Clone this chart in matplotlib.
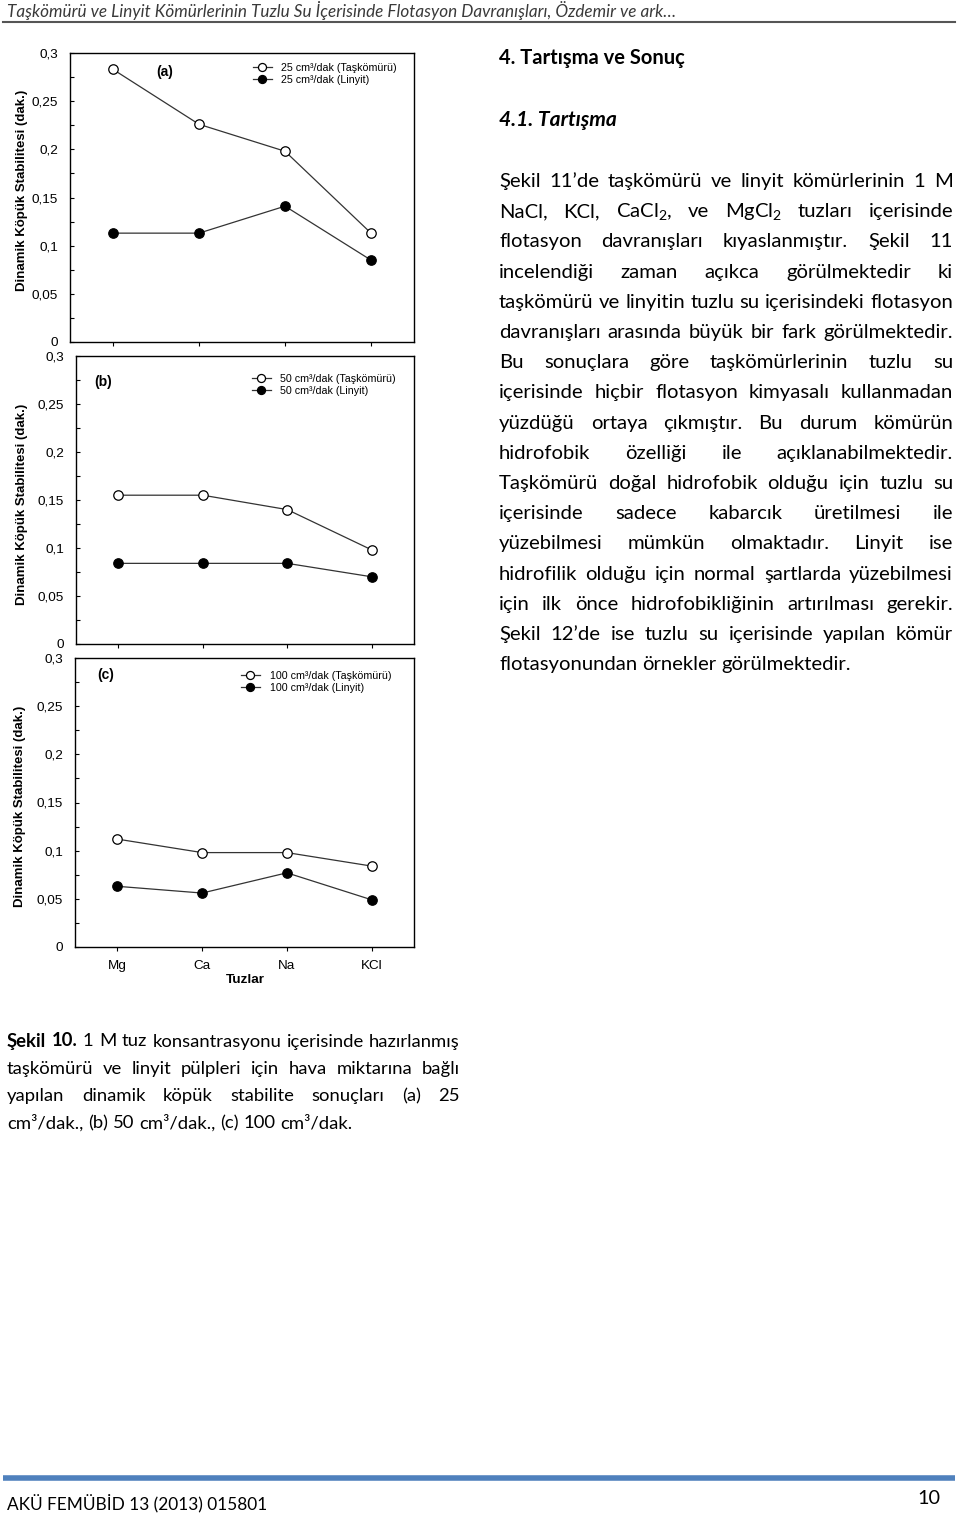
import matplotlib
matplotlib.use('Agg')
import matplotlib.pyplot as plt
from matplotlib.ticker import MultipleLocator

plt.rcParams['mathtext.fontset'] = 'custom'
plt.rcParams['mathtext.rm'] = 'Lato'
plt.rcParams['mathtext.it'] = 'Lato:italic'
plt.rcParams['mathtext.bf'] = 'Lato:bold'

W, H, DPI = 960, 1514, 100

# ---------------- data ----------------
salts = ['Mg', 'Ca', 'Na', 'KCl']
a_taskomuru = [0.283, 0.226, 0.198, 0.113]
a_linyit = [0.113, 0.113, 0.141, 0.085]
b_taskomuru = [0.155, 0.155, 0.140, 0.098]
b_linyit = [0.084, 0.084, 0.084, 0.070]
c_taskomuru = [0.112, 0.098, 0.098, 0.084]
c_linyit = [0.063, 0.056, 0.077, 0.049]
y_ticks = [0, 0.05, 0.1, 0.15, 0.2, 0.25, 0.3]
y_ticklabels = ['0', '0,05', '0,1', '0,15', '0,2', '0,25', '0,3']
panel_labels = ['(a)', '(b)', '(c)']
flow_rates = ['25', '50', '100']
ylabel_text = 'Dinamik Köpük Stabilitesi (dak.)'
xlabel_text = 'Tuzlar'

header_text = 'Taşkömürü ve Linyit Kömürlerinin Tuzlu Su İçerisinde Flotasyon Davranışları, Özdemir ve ark…'
heading1 = '4. Tartışma ve Sonuç'
heading2 = '4.1. Tartışma'
body_lines = [
    'Şekil 11’de taşkömürü ve linyit kömürlerinin 1 M',
    'NaCl, KCl, CaCl$_2$, ve MgCl$_2$ tuzları içerisinde',
    'flotasyon davranışları kıyaslanmıştır. Şekil 11',
    'incelendiği zaman açıkca görülmektedir ki',
    'taşkömürü ve linyitin tuzlu su içerisindeki flotasyon',
    'davranışları arasında büyük bir fark görülmektedir.',
    'Bu sonuçlara göre taşkömürlerinin tuzlu su',
    'içerisinde hiçbir flotasyon kimyasalı kullanmadan',
    'yüzdüğü ortaya çıkmıştır. Bu durum kömürün',
    'hidrofobik özelliği ile açıklanabilmektedir.',
    'Taşkömürü doğal hidrofobik olduğu için tuzlu su',
    'içerisinde sadece kabarcık üretilmesi ile',
    'yüzebilmesi mümkün olmaktadır. Linyit ise',
    'hidrofilik olduğu için normal şartlarda yüzebilmesi',
    'için ilk önce hidrofobikliğinin artırılması gerekir.',
    'Şekil 12’de ise tuzlu su içerisinde yapılan kömür',
    'flotasyonundan örnekler görülmektedir.',
]
caption_lines = [
    'Şekil 10. 1 M tuz konsantrasyonu içerisinde hazırlanmış',
    'taşkömürü ve linyit pülpleri için hava miktarına bağlı',
    'yapılan dinamik köpük stabilite sonuçları (a) 25',
    'cm³/dak., (b) 50 cm³/dak., (c) 100 cm³/dak.',
]
footer_left = 'AKÜ FEMÜBİD 13 (2013) 015801'
footer_right = '10'

# ---------------- figure ----------------
fig = plt.figure(figsize=(W / DPI, H / DPI), dpi=DPI)
bg = fig.add_axes([0, 0, 1, 1])
bg.set_xlim(0, W)
bg.set_ylim(H, 0)
bg.axis('off')
bg.set_zorder(10)
renderer = fig.canvas.get_renderer()


def text_width(s, **kw):
    t = bg.text(0, 0, s, **kw)
    w = t.get_window_extent(renderer).width
    t.remove()
    return w


def fit_size(s, target, base=12, **kw):
    return base * target / text_width(s, fontsize=base, **kw)


def justified(lines, x0, x1, y0, dy, fs, bold_first=0, color='black'):
    space = text_width('a a', fontsize=fs, family='Lato') - text_width('aa', fontsize=fs, family='Lato')
    for i, line in enumerate(lines):
        y = y0 + i * dy
        words = line.split(' ')
        texts, widths = [], []
        for j, w in enumerate(words):
            weight = 'bold' if (i == 0 and j < bold_first) else 'normal'
            t = bg.text(0, y, w, fontsize=fs, family='Lato', fontweight=weight,
                        va='baseline', ha='left', color=color)
            widths.append(t.get_window_extent(renderer).width)
            texts.append(t)
        if i == len(lines) - 1 or len(words) == 1:
            gap = space
        else:
            gap = (x1 - x0 - sum(widths)) / (len(words) - 1)
        x = x0
        for t, w in zip(texts, widths):
            t.set_x(x)
            x += w + gap


def px_axes(l, t, r, b):
    return fig.add_axes([l / W, 1 - b / H, (r - l) / W, (b - t) / H])


CH = 'Liberation Sans'


def panel(box, tas, lin, label, rate, leg_anchor, lab_xy, ylab_xy, show_x):
    l, t, r, b = box
    ax = px_axes(l, t, r, b)
    x = list(range(len(salts)))
    ax.plot(x, tas, '-', color='#333333', lw=0.9, marker='o', ms=6.8,
            mfc='white', mec='black', mew=0.9, label=f'{rate} cm³/dak (Taşkömürü)', zorder=3)
    ax.plot(x, lin, '-', color='#333333', lw=0.9, marker='o', ms=6.8,
            mfc='black', mec='black', mew=0.9, label=f'{rate} cm³/dak (Linyit)', zorder=3)
    ax.set_xlim(-0.5, len(salts) - 0.5)
    ax.set_ylim(0, 0.3)
    ax.set_yticks(y_ticks)
    ax.set_yticklabels(y_ticklabels, family=CH)
    ax.yaxis.set_minor_locator(MultipleLocator(0.025))
    ax.tick_params(axis='y', which='both', direction='in', length=3, width=0.8,
                   labelsize=9.7, pad=8.5)
    ax.set_xticks(x)
    if show_x:
        ax.set_xticklabels(salts, family=CH)
    else:
        ax.set_xticklabels([])
    ax.tick_params(axis='x', direction='out', length=3, width=0.8, labelsize=9.7, pad=6.5)
    for s in ax.spines.values():
        s.set_linewidth(1.0)
    ax_x = (leg_anchor[0] - l) / (r - l)
    ax_y = 1 - (leg_anchor[1] - t) / (b - t)
    ax.legend(loc='upper right', bbox_to_anchor=(ax_x, ax_y), bbox_transform=ax.transAxes,
              frameon=False, borderaxespad=0, borderpad=0, handlelength=1.8,
              handletextpad=0.9, labelspacing=0.2, markerscale=0.85,
              prop={'family': CH, 'size': 7.7})
    bg.text(lab_xy[0], lab_xy[1], label, fontsize=10, fontweight='bold', family=CH,
            ha='center', va='center')
    bg.text(ylab_xy[0], ylab_xy[1], ylabel_text, rotation=90, fontsize=9.5,
            fontweight='bold', family=CH, ha='center', va='center')
    return ax


panel((70, 53, 414, 342), a_taskomuru, a_linyit, panel_labels[0], flow_rates[0],
      (397, 63), (165, 72), (22, 190), False)
panel((76, 356, 414, 644), b_taskomuru, b_linyit, panel_labels[1], flow_rates[1],
      (396, 374), (103, 382), (22, 504), False)
panel((75, 658, 414, 947), c_taskomuru, c_linyit, panel_labels[2], flow_rates[2],
      (391, 671), (106, 675), (20, 806), True)
bg.text(245, 980, xlabel_text, fontsize=9.7, fontweight='bold', family=CH,
        ha='center', va='center')

# ---------------- page text ----------------
fs_hdr = fit_size(header_text, 666, family='Lato', style='italic')
bg.text(7, 17, header_text, fontsize=fs_hdr, family='Lato', style='italic',
        color='#3a3a3a', va='baseline')
bg.plot([3, 955], [21.5, 21.5], color='#555555', lw=1.5)

fs_h1 = fit_size(heading1, 185, family='Lato', fontweight='bold')
bg.text(499, 64, heading1, fontsize=fs_h1, family='Lato', fontweight='bold', va='baseline')
fs_h2 = fit_size(heading2, 118, family='Lato', fontweight='bold', style='italic')
bg.text(499, 126, heading2, fontsize=fs_h2, family='Lato', fontweight='bold',
        style='italic', va='baseline')

fs_body = fit_size(body_lines[-1], 351, family='Lato')
justified(body_lines, 499, 953, 187, 30.2, fs_body)

fs_cap = fit_size(caption_lines[-1], 343, family='Lato')
justified(caption_lines, 7, 460, 1046.5, 27.3, fs_cap, bold_first=2)

bg.plot([3, 955], [1478, 1478], color='#4f81bd', lw=4.0, solid_capstyle='butt')
fs_ft = fit_size(footer_left, 259, family='Lato')
bg.text(7, 1509, footer_left, fontsize=fs_ft, family='Lato', va='baseline')
bg.text(940, 1504, footer_right, fontsize=fs_ft * 1.15, family='Lato', va='baseline', ha='right')

fig.savefig('out.png', dpi=DPI)
